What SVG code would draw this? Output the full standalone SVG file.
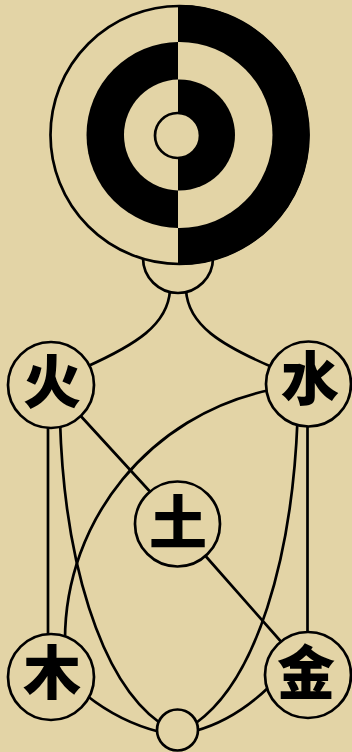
<svg xmlns="http://www.w3.org/2000/svg" width="352" height="752" viewBox="0 0 352 752">
<style>
.ln{fill:none;stroke:#000;stroke-width:2.7;stroke-linecap:round}
.nd{fill:#e3d4a6;stroke:#000;stroke-width:2.7}
.ch{font-family:"Noto Sans CJK SC","Noto Sans CJK JP",sans-serif;font-weight:900;font-size:58px;fill:#000;text-anchor:middle}
.bk{fill:#000}
.bg{fill:#e3d4a6}
</style>
<defs>
<clipPath id="L"><rect x="0" y="0" width="178" height="300"/></clipPath>
<clipPath id="R"><rect x="178" y="0" width="174" height="300"/></clipPath>
</defs>
<rect width="352" height="752" fill="#e3d4a6"/>
<g id="connectors">
<path class="ln" d="M170 290 C168 325 135 345 86 367"/>
<path class="ln" d="M186 290 C188 325 221 345 272 367"/>
<path class="ln" d="M48 420 L48 640"/>
<path class="ln" d="M307.5 420 L307.5 640"/>
<path class="ln" d="M60 420 C64 560 100 680 160 723"/>
<path class="ln" d="M297.5 420 C292 560 256 680 196 723"/>
<path class="ln" d="M270 390 C150 415 65 520 65 640"/>
<path class="ln" d="M78 413 L154 496"/>
<path class="ln" d="M202 552 L284 645"/>
<path class="ln" d="M86 695 Q120 722 160 732"/>
<path class="ln" d="M270 686 Q235 720 195 731"/>
</g>
<g id="taiji">
<circle class="nd" cx="178" cy="258" r="35"/>
<circle class="nd" cx="179.5" cy="135" r="129" stroke-width="2"/>
<circle class="bk" cx="179.5" cy="135" r="130" clip-path="url(#R)"/>
<circle class="bk" cx="179.5" cy="135" r="93" clip-path="url(#L)"/>
<circle class="bg" cx="179.5" cy="135" r="93" clip-path="url(#R)"/>
<circle class="bg" cx="179.5" cy="135" r="55.5" clip-path="url(#L)"/>
<circle class="bk" cx="179.5" cy="135" r="55.5" clip-path="url(#R)"/>
<circle class="nd" cx="177.5" cy="135.5" r="22.5" stroke-width="2"/>
</g>
<g id="fire"><circle class="nd" cx="51" cy="385" r="43"/><text class="ch" x="52" y="403">火</text></g>
<g id="water"><circle class="nd" cx="308.5" cy="384" r="42.5"/><text class="ch" x="310" y="400">水</text></g>
<g id="earth"><circle class="nd" cx="177.5" cy="524" r="42.5"/><text class="ch" x="178" y="544">土</text></g>
<g id="wood"><circle class="nd" cx="51" cy="677" r="43"/><text class="ch" x="52" y="694">木</text></g>
<g id="metal"><circle class="nd" cx="308" cy="675" r="43"/><text class="ch" x="306" y="694">金</text></g>
<g id="origin"><circle class="nd" cx="177.5" cy="730" r="20.5"/></g>
</svg>
